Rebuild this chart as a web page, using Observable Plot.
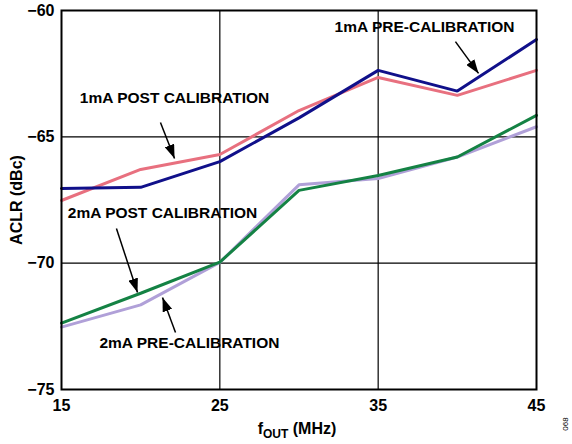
<!DOCTYPE html>
<html><head><meta charset="utf-8">
<script src="https://cdn.jsdelivr.net/npm/d3@7"></script>
<script src="https://cdn.jsdelivr.net/npm/@observablehq/plot@0.6"></script>
<style>body{margin:0;background:#fff;font-family:"Liberation Sans",Arial,sans-serif}</style>
</head><body><div id="chart"></div>
<script>
const freq = [15, 20, 25, 30, 35, 40, 45];
const pre1mA  = [-67.04, -67.0, -65.98, -64.25, -62.37, -63.19, -61.15];
const post1mA = [-67.52, -66.29, -65.7, -63.96, -62.65, -63.36, -62.37];
const post2mA = [-72.37, -71.19, -69.96, -67.12, -66.53, -65.8, -64.15];
const pre2mA  = [-72.53, -71.65, -69.97, -66.9, -66.65, -65.8, -64.6];
const seriesNames = ["1mA PRE-CALIBRATION", "1mA POST CALIBRATION", "2mA POST CALIBRATION", "2mA PRE-CALIBRATION"];
const seriesColors = ["#10108a", "#e8707f", "#148244", "#b0a0d8"];
const xTicks = [15, 25, 35, 45];
const yTicks = [-60, -65, -70, -75];
// annotation labels and arrows in data units
const labelX = [37.93, 22.14, 21.38, 23.08];
const labelY = [-60.67, -63.48, -68.03, -73.18];
const arrowX1 = [39.88, 21.25, 18.47, 22.2];
const arrowY1 = [-61.23, -64.43, -68.63, -72.74];
const arrowX2 = [41.34, 22.14, 19.8, 21.38];
const arrowY2 = [-62.49, -65.86, -71.16, -71.36];

const seriesVals = [pre1mA, post1mA, post2mA, pre2mA];
const drawOrder = [3, 2, 1, 0];
const rows = drawOrder.flatMap(s => freq.map((f, i) => ({s: seriesNames[s], x: f, y: seriesVals[s][i], c: seriesColors[s]})));
const labels = seriesNames.map((n, i) => ({n, x: labelX[i], y: labelY[i]}));
const arrows = seriesNames.map((n, i) => ({x1: arrowX1[i], y1: arrowY1[i], x2: arrowX2[i], y2: arrowY2[i]}));

const svg = Plot.plot({
  width: 572, height: 444,
  marginLeft: 61, marginRight: 36, marginTop: 10, marginBottom: 55,
  style: {fontFamily: "Liberation Sans, Arial, sans-serif", background: "#fff"},
  x: {domain: [15, 45], ticks: xTicks, tickSize: 0, tickPadding: 10, label: null},
  y: {domain: [-75, -60], ticks: yTicks, tickSize: 0, tickPadding: 7, label: null},
  marks: [
    Plot.ruleX([25, 35], {stroke: "#000", strokeWidth: 1.2}),
    Plot.ruleY([-65, -70], {stroke: "#000", strokeWidth: 1.2}),
    Plot.line(rows, {x: "x", y: "y", z: "s", stroke: "c", strokeWidth: 3, strokeLinejoin: "miter"}),
    Plot.frame({stroke: "#000", strokeWidth: 2}),
    Plot.link(arrows, {x1: "x1", y1: "y1", x2: "x2", y2: "y2", stroke: "#000", strokeWidth: 1.5}),
    Plot.text(labels, {x: "x", y: "y", text: "n", fontSize: 15.5, fontWeight: "bold", fill: "#000"})
  ]
});
const s = d3.select(svg);
s.selectAll('g[aria-label="x-axis tick label"], g[aria-label="y-axis tick label"]')
  .attr("font-size", 16).attr("font-weight", "bold").attr("fill", "#000");
const defs = s.append("defs");
defs.append("marker").attr("id", "ah").attr("viewBox", "0 -5 14 10").attr("refX", 14).attr("refY", 0)
  .attr("markerWidth", 14).attr("markerHeight", 10).attr("markerUnits", "userSpaceOnUse").attr("orient", "auto")
  .append("path").attr("d", "M0,-5L14,0L0,5Z").attr("fill", "#000");
s.selectAll('g[aria-label="link"] path').attr("marker-end", "url(#ah)");
// axis titles
const xl = s.append("text").attr("x", 297).attr("y", 434).attr("text-anchor", "middle")
  .attr("font-size", 16).attr("font-weight", "bold").attr("fill", "#000");
xl.append("tspan").text("f");
xl.append("tspan").attr("font-size", 12).attr("dy", 4).text("OUT");
xl.append("tspan").attr("dy", -4).text(" (MHz)");
s.append("text").attr("transform", "translate(22,200) rotate(-90)").attr("text-anchor", "middle")
  .attr("font-size", 16).attr("font-weight", "bold").attr("fill", "#000").text("ACLR (dBc)");
s.append("text").attr("transform", "translate(568,424) rotate(-90)").attr("text-anchor", "middle")
  .attr("font-size", 8).attr("fill", "#000").text("068");
document.getElementById("chart").append(svg);
</script></body></html>
